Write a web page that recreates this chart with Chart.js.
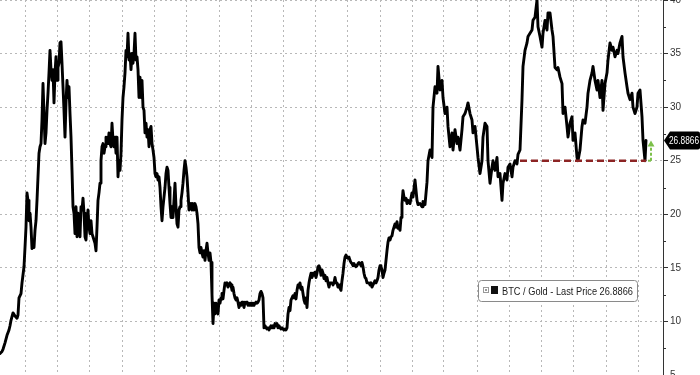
<!DOCTYPE html>
<html>
<head>
<meta charset="utf-8">
<script src="https://cdn.jsdelivr.net/npm/chart.js@4.4.1/dist/chart.umd.min.js"></script>
<style>
  html, body { margin: 0; padding: 0; background: #ffffff; }
  #wrap { width: 700px; height: 375px; position: relative; }
  canvas { display: block; }
</style>
</head>
<body>
<div id="wrap"><canvas id="c" width="700" height="375"></canvas></div>
<script>
// ---- DATA ----
// time step (quarters are ~32.25 steps apart) and BTC / Gold ratio
const seriesName = 'BTC / Gold - Last Price';
const lastPrice = 26.8866;
const supportLevel = 25;
const supportStartStep = 520;
const yTicks = [5, 10, 15, 20, 25, 30, 35, 40];
const quarterGridSteps = [25, 57, 89, 122, 154, 186, 219, 251, 283, 315, 347, 380, 412, 444, 477, 509, 541, 573, 606, 638];
const btcGold = [
[0,7.0],[2,7.2],[3,7.4],[5,8.0],[7,8.7],[9,9.2],[10,9.6],[11,10.1],[13,10.8],[15,10.5],[17,10.3],[18,10.6],[19,12.2],[21,12.6],[22,13.6],[24,15.1],[25,16.9],[26,18.8],[27,22.0],[28,21.3],[29,19.4],[30,20.1],[31,18.8],[32,16.8],[33,17.6],[34,16.9],[35,18.5],[36,19.4],[37,21.3],[38,23.5],[39,25.7],[40,26.3],[41,26.6],[42,28.8],[43,32.2],[44,29.4],[45,26.6],[46,27.6],[47,29.7],[48,31.3],[49,33.2],[50,35.3],[51,33.5],[52,32.5],[53,33.5],[54,30.4],[55,33.2],[56,34.7],[57,32.5],[58,33.7],[59,34.1],[60,36.0],[61,36.1],[62,34.1],[63,31.9],[64,29.7],[65,27.2],[66,30.4],[67,32.5],[68,30.9],[69,31.9],[70,29.4],[71,27.2],[72,24.1],[73,20.7],[74,20.1],[75,18.2],[76,20.7],[77,17.9],[78,20.1],[79,19.4],[80,17.9],[81,20.7],[82,20.4],[83,21.5],[84,20.1],[85,17.9],[86,17.6],[87,19.4],[88,20.4],[89,18.8],[90,18.2],[91,19.4],[92,18.2],[93,17.9],[94,17.6],[95,17.3],[96,16.6],[97,18.8],[98,21.3],[99,22.0],[100,22.9],[101,25.0],[102,26.3],[103,26.6],[104,25.7],[105,26.3],[106,27.2],[107,26.6],[108,26.6],[109,27.6],[110,26.6],[111,26.3],[112,28.5],[113,26.9],[114,26.3],[115,27.2],[116,25.7],[117,27.2],[118,23.5],[119,25.0],[120,24.1],[121,25.7],[122,28.8],[123,30.9],[124,31.9],[125,33.2],[126,35.3],[127,34.7],[128,36.9],[129,34.4],[130,35.0],[131,33.5],[132,35.0],[133,34.1],[134,35.0],[135,36.9],[136,34.4],[137,34.7],[138,33.5],[139,30.9],[140,32.8],[141,30.9],[142,32.5],[143,30.0],[144,29.7],[145,27.6],[146,28.5],[147,27.2],[148,27.9],[149,26.3],[150,27.9],[151,28.2],[152,26.6],[153,26.0],[154,25.3],[155,23.8],[156,23.5],[157,23.8],[158,23.2],[159,23.5],[160,22.5],[161,20.7],[162,19.4],[163,20.7],[164,21.6],[165,22.5],[166,23.8],[167,24.4],[168,24.1],[169,22.5],[170,21.0],[171,19.7],[172,20.7],[173,19.7],[174,21.3],[175,22.9],[176,20.7],[177,19.1],[178,18.8],[179,20.4],[180,20.7],[181,21.3],[182,22.0],[183,22.9],[184,24.1],[185,25.0],[186,24.4],[187,23.5],[188,22.0],[189,20.4],[190,20.7],[191,21.0],[192,20.4],[193,21.0],[194,20.4],[195,21.0],[196,20.7],[197,20.1],[198,19.1],[199,16.9],[200,16.4],[201,16.9],[202,16.4],[203,16.0],[204,16.6],[205,15.7],[206,16.6],[207,17.3],[208,16.4],[209,15.7],[210,16.4],[211,15.5],[212,12.5],[213,9.8],[214,11.7],[215,10.7],[216,11.7],[217,11.3],[218,10.7],[219,12.0],[220,11.7],[221,12.2],[222,12.6],[223,12.1],[224,12.9],[225,13.6],[226,13.4],[227,13.6],[228,13.2],[229,13.4],[230,13.6],[231,13.4],[232,12.9],[233,13.2],[234,12.6],[235,12.2],[236,12.0],[237,12.2],[238,11.8],[239,11.3],[240,11.7],[241,11.5],[242,11.8],[243,11.7],[244,11.3],[245,11.8],[246,11.7],[247,11.8],[248,11.5],[249,11.7],[250,11.5],[251,11.7],[252,11.5],[253,11.7],[254,11.5],[255,11.7],[256,11.8],[257,11.7],[258,11.8],[259,12.0],[260,12.6],[261,12.8],[262,12.6],[263,12.2],[264,9.4],[265,9.6],[266,9.4],[267,9.3],[268,9.4],[269,9.2],[270,9.4],[271,9.6],[272,9.4],[273,9.6],[274,9.4],[275,9.8],[276,9.6],[277,9.8],[278,9.4],[279,9.6],[280,9.4],[281,9.3],[282,9.4],[283,9.3],[284,9.2],[285,9.3],[286,9.2],[287,9.4],[288,10.7],[289,11.3],[290,11.0],[291,12.0],[292,12.2],[293,12.4],[294,12.2],[295,12.6],[296,12.1],[297,12.9],[298,13.4],[299,13.2],[300,13.6],[301,13.0],[302,13.2],[303,12.6],[304,12.0],[305,11.7],[306,12.2],[307,11.3],[308,12.9],[309,13.6],[310,14.1],[311,14.5],[312,14.1],[313,14.5],[314,14.3],[315,14.6],[316,14.1],[317,14.5],[318,15.1],[319,15.2],[320,14.9],[321,14.3],[322,14.8],[323,14.5],[324,14.0],[325,14.3],[326,13.8],[327,14.1],[328,13.6],[329,13.2],[330,13.6],[331,13.6],[332,13.6],[333,13.4],[334,13.6],[335,14.1],[336,13.6],[337,13.6],[338,13.2],[339,13.4],[340,13.1],[341,12.9],[342,13.8],[343,14.5],[344,15.4],[345,16.0],[346,16.2],[347,16.0],[348,15.9],[349,16.0],[350,15.7],[351,15.5],[352,15.4],[353,15.2],[354,15.4],[355,15.2],[356,15.1],[357,15.2],[358,15.4],[359,15.5],[360,15.4],[361,15.2],[362,15.5],[363,15.1],[364,14.5],[365,14.1],[366,14.0],[367,13.6],[368,13.6],[369,13.6],[370,13.4],[371,13.6],[372,13.2],[373,13.4],[374,13.6],[375,13.8],[376,13.6],[377,13.8],[378,14.1],[379,14.8],[380,15.2],[381,15.1],[382,14.8],[383,14.1],[384,14.5],[385,14.8],[386,15.7],[387,16.6],[388,17.4],[389,17.8],[390,17.6],[391,17.9],[392,18.0],[393,18.5],[394,18.8],[395,19.1],[396,18.8],[397,19.3],[398,18.7],[399,18.8],[400,18.5],[401,19.7],[402,21.0],[403,22.2],[404,21.6],[405,21.3],[406,21.5],[407,21.0],[408,21.3],[409,21.1],
[410,21.0],[412,22.0],[413,21.6],[415,23.2],[417,21.3],[418,20.9],[420,21.0],[422,20.7],[423,21.2],[425,20.9],[427,23.0],[428,25.0],[430,26.0],[432,25.3],[433,30.0],[435,31.9],[437,31.3],[438,33.8],[440,31.6],[442,32.5],[443,30.9],[445,29.4],[447,30.0],[448,28.2],[450,26.3],[452,27.6],[453,26.0],[455,27.9],[457,26.6],[458,27.2],[460,26.0],[462,27.9],[463,29.1],[465,29.4],[467,30.0],[468,30.4],[470,29.4],[472,28.8],[473,27.6],[475,28.2],[477,26.3],[478,25.3],[480,23.8],[482,25.0],[483,27.2],[485,28.5],[487,28.2],[488,25.0],[490,22.9],[492,24.4],[493,25.0],[495,24.1],[497,25.3],[498,23.5],[500,23.8],[502,21.3],[503,22.9],[505,23.8],[507,23.2],[508,24.4],[510,24.7],[512,23.5],[513,24.4],[515,25.0],[517,24.7],[518,25.6],[520,26.0],[522,30.7],[523,33.8],[525,35.3],[527,36.0],[528,36.6],[530,36.9],[532,37.2],[533,38.1],[535,38.4],[537,40.0],[538,37.5],[540,36.6],[542,35.6],[543,36.9],[545,38.1],[547,37.2],[548,38.8],[550,38.8],[552,37.2],[553,36.6],[555,33.7],[557,33.5],[558,33.7],[560,32.8],[562,32.2],[563,29.4],[565,30.0],[567,28.2],[568,27.2],[570,28.5],[572,29.1],[573,26.9],[575,27.6],[577,25.3],[578,25.0],[580,26.0],[582,28.2],[583,28.8],[585,28.5],[587,30.0],[588,31.3],[590,32.5],[592,33.2],[593,33.8],[595,32.5],[597,31.6],[598,32.5],[600,30.9],[602,32.5],[603,29.7],[605,32.2],[607,33.2],[608,34.4],[610,36.0],[612,35.3],[613,35.6],[615,34.7],[617,35.3],[618,35.0],[620,36.0],[622,36.6],[623,34.7],[625,33.2],[627,31.9],[628,31.3],[630,30.7],[632,31.3],[633,30.0],[635,29.4],[637,30.0],[638,31.3],[640,31.6],[642,29.1],[643,26.9],[645,25.0],[646,26.9]
];

const FAM = '"Liberation Sans", Arial, sans-serif';
const GRID = '#b8b8b8';
const AXIS = '#333333';

function fitText(ctx, text, x, y, maxW) {
  const w = ctx.measureText(text).width;
  const s = Math.min(1, maxW / w);
  ctx.save();
  ctx.translate(x, y); ctx.scale(s, 1);
  ctx.fillText(text, 0, 0);
  ctx.restore();
}

const overlay = {
  id: 'overlay',
  afterDraw(chart) {
    const { ctx, scales: { x, y } } = chart;
    // minor ticks on right axis
    ctx.save();
    ctx.strokeStyle = AXIS; ctx.lineWidth = 1;
    for (let i = 0; i < yTicks.length - 1; i++) {
      const v = (yTicks[i] + yTicks[i + 1]) / 2;
      const py = Math.round(y.getPixelForValue(v)) + 0.5;
      ctx.beginPath(); ctx.moveTo(y.left, py); ctx.lineTo(y.left + 3, py); ctx.stroke();
    }
    ctx.restore();

    // support dashed red line
    const last = btcGold[btcGold.length - 1][0];
    const ys = y.getPixelForValue(supportLevel);
    ctx.save();
    ctx.strokeStyle = '#8c2424'; ctx.lineWidth = 2.6; ctx.setLineDash([7, 4]);
    ctx.beginPath(); ctx.moveTo(x.getPixelForValue(supportStartStep), ys); ctx.lineTo(x.getPixelForValue(last), ys); ctx.stroke();
    ctx.restore();

    // green arrow from support to last price
    const ax = x.getPixelForValue(last) + 5;
    const yl = y.getPixelForValue(lastPrice);
    ctx.save();
    ctx.strokeStyle = '#7cc04a'; ctx.fillStyle = '#7cc04a'; ctx.lineWidth = 2;
    ctx.setLineDash([3, 2]);
    ctx.beginPath(); ctx.moveTo(ax, ys); ctx.lineTo(ax, yl + 5); ctx.stroke();
    ctx.setLineDash([]);
    ctx.beginPath(); ctx.moveTo(ax - 3.5, yl + 6); ctx.lineTo(ax + 3.5, yl + 6); ctx.lineTo(ax, yl); ctx.closePath(); ctx.fill();
    ctx.beginPath(); ctx.moveTo(ax - 3, ys); ctx.lineTo(ax, ys); ctx.stroke();
    ctx.restore();

    // last price tag on axis
    const tx = y.left + 1;
    ctx.save();
    ctx.fillStyle = '#000';
    ctx.beginPath();
    ctx.moveTo(tx, yl);
    ctx.lineTo(tx + 6, yl - 9);
    ctx.lineTo(chart.width - 2, yl - 9);
    ctx.quadraticCurveTo(chart.width, yl - 9, chart.width, yl - 7);
    ctx.lineTo(chart.width, yl + 7);
    ctx.quadraticCurveTo(chart.width, yl + 9, chart.width - 2, yl + 9);
    ctx.lineTo(tx + 6, yl + 9);
    ctx.closePath(); ctx.fill();
    ctx.fillStyle = '#fff';
    ctx.font = '11px ' + FAM;
    ctx.textBaseline = 'middle'; ctx.textAlign = 'left';
    fitText(ctx, lastPrice.toFixed(4), tx + 5, yl + 0.5, 30);
    ctx.restore();

    // legend box
    const bx = 478.5, by = 280.5, bw = 159, bh = 21;
    ctx.save();
    ctx.fillStyle = '#fff'; ctx.strokeStyle = '#8a8a8a'; ctx.lineWidth = 1;
    ctx.beginPath(); ctx.roundRect(bx, by, bw, bh, 3); ctx.fill(); ctx.stroke();
    ctx.strokeStyle = '#999'; ctx.strokeRect(483.5, 287.5, 5, 5);
    ctx.fillStyle = '#999'; ctx.fillRect(485, 289, 2, 2);
    ctx.fillStyle = '#111'; ctx.fillRect(491, 286, 7, 8);
    const label = seriesName + ' ' + lastPrice.toFixed(4);
    ctx.font = '11px ' + FAM;
    ctx.fillStyle = '#222'; ctx.textBaseline = 'middle'; ctx.textAlign = 'left';
    fitText(ctx, label, 502, by + bh / 2 + 0.5, 131);
    ctx.restore();
  }
};

new Chart(document.getElementById('c'), {
  type: 'line',
  data: {
    datasets: [{
      label: seriesName,
      data: btcGold.map(p => ({ x: p[0], y: p[1] })),
      borderColor: '#000', borderWidth: 2.9, pointRadius: 0, tension: 0,
      borderJoinStyle: 'round', borderCapStyle: 'round', fill: false
    }]
  },
  options: {
    responsive: false, animation: false, events: [],
    layout: { padding: 0 },
    plugins: { legend: { display: false }, tooltip: { enabled: false } },
    scales: {
      x: {
        type: 'linear', min: 0, max: 663, position: 'bottom',
        ticks: { display: false },
        grid: { drawTicks: false, color: GRID, lineWidth: 1 },
        border: { display: false, dash: [2, 3] },
        afterBuildTicks: s => { s.ticks = quarterGridSteps.map(v => ({ value: v })); },
        afterFit: s => { s.height = 0; s.paddingLeft = 0; s.paddingRight = 0; }
      },
      y: {
        position: 'right', min: 5, max: 40,
        afterBuildTicks: s => { s.ticks = yTicks.map(v => ({ value: v })); },
        ticks: { color: '#333', font: { family: FAM, size: 10 }, padding: 2 },
        grid: { color: GRID, lineWidth: 1, drawTicks: true, tickLength: 5, tickColor: AXIS, tickWidth: 1, tickBorderDash: [] },
        border: { display: true, color: AXIS, width: 1, dash: [2, 3] },
        afterFit: s => { s.width = 37; s.paddingTop = 0; s.paddingBottom = 0; }
      }
    }
  },
  plugins: [overlay]
});
</script>
</body>
</html>
